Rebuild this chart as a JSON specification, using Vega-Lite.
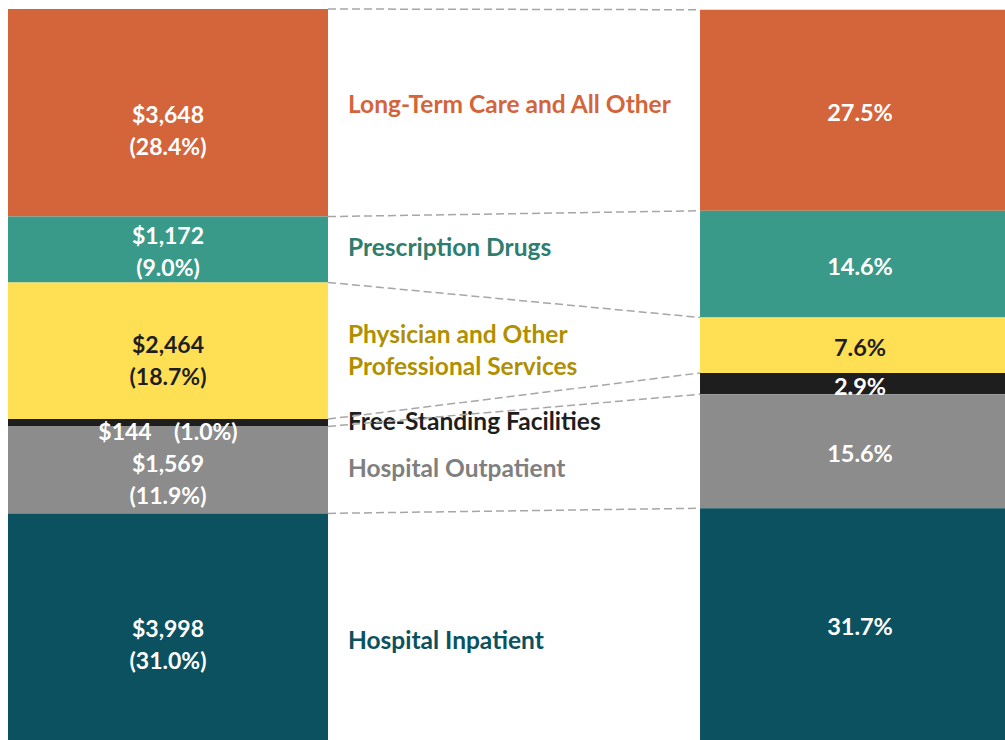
{
  "$schema": "https://vega.github.io/schema/vega-lite/v6.json",
  "width": 1005,
  "height": 731,
  "autosize": {"type": "none"},
  "padding": {"left": 0, "top": 9, "right": 0, "bottom": 0},
  "background": "white",
  "config": {"view": {"stroke": null}},
  "data": {
    "values": [
      {"side": "left", "rank": 6, "cat": "Long-Term Care and All Other", "value": 28.4, "lbl": "$3,648\n(28.4%)"},
      {"side": "left", "rank": 5, "cat": "Prescription Drugs", "value": 9.0, "lbl": "$1,172\n(9.0%)"},
      {"side": "left", "rank": 4, "cat": "Physician and Other\nProfessional Services", "value": 18.7, "lbl": "$2,464\n(18.7%)"},
      {"side": "left", "rank": 3, "cat": "Free-Standing Facilities", "value": 1.0, "lbl": "$144\u00a0\u00a0\u00a0\u00a0(1.0%)"},
      {"side": "left", "rank": 2, "cat": "Hospital Outpatient", "value": 11.9, "lbl": "$1,569\n(11.9%)"},
      {"side": "left", "rank": 1, "cat": "Hospital Inpatient", "value": 31.0, "lbl": "$3,998\n(31.0%)"},
      {"side": "right", "rank": 6, "cat": "Long-Term Care and All Other", "value": 27.5, "lbl": "27.5%"},
      {"side": "right", "rank": 5, "cat": "Prescription Drugs", "value": 14.6, "lbl": "14.6%"},
      {"side": "right", "rank": 4, "cat": "Physician and Other\nProfessional Services", "value": 7.6, "lbl": "7.6%"},
      {"side": "right", "rank": 3, "cat": "Free-Standing Facilities", "value": 2.9, "lbl": "2.9%"},
      {"side": "right", "rank": 2, "cat": "Hospital Outpatient", "value": 15.6, "lbl": "15.6%"},
      {"side": "right", "rank": 1, "cat": "Hospital Inpatient", "value": 31.7, "lbl": "31.7%"}
    ]
  },
  "transform": [
    {"stack": "value", "groupby": ["side"], "sort": [{"field": "rank", "order": "ascending"}], "as": ["y0", "y1"]},
    {"fold": ["y0", "y1"], "as": ["edge", "edgeValue"]},
    {"joinaggregate": [{"op": "mean", "field": "edgeValue", "as": "ymid"}], "groupby": ["side", "cat"]},
    {"filter": "datum.edge === 'y1'"}
  ],
  "layer": [
    {
      "encoding": {
        "x": {"field": "side", "type": "nominal", "axis": null,
              "scale": {"type": "band", "domain": ["left", "right"], "range": [8, 1020], "paddingInner": 0.5376, "paddingOuter": 0}}
      },
      "layer": [
        {
          "mark": {"type": "bar"},
          "encoding": {
            "y": {"field": "y0", "type": "quantitative", "axis": null, "scale": {"domain": [0, 100], "nice": false, "zero": true}},
            "y2": {"field": "y1"},
            "color": {"field": "rank", "type": "nominal", "legend": null,
                      "scale": {"domain": [6, 5, 4, 3, 2, 1], "range": ["#D4653B", "#3A9A8A", "#FFE055", "#1E1E1E", "#8C8C8C", "#0B5160"]}}
          }
        },
        {
          "transform": [{"filter": "datum.side === 'left' && (datum.rank === 6 || datum.rank === 1)"}],
          "mark": {"type": "text", "font": "Lato", "fontWeight": "bold", "fontSize": 23, "lineBreak": "\n", "lineHeight": 32, "dy": 3, "align": "center", "baseline": "middle"},
          "encoding": {
            "y": {"field": "ymid", "type": "quantitative", "axis": null, "scale": {"domain": [0, 100], "nice": false, "zero": true}},
            "text": {"field": "lbl"},
            "color": {"value": "white"}
          }
        },
        {
          "transform": [{"filter": "datum.side === 'left' && (datum.rank === 4 || datum.rank === 2)"}],
          "mark": {"type": "text", "font": "Lato", "fontWeight": "bold", "fontSize": 23, "lineBreak": "\n", "lineHeight": 32, "dy": -5, "align": "center", "baseline": "middle"},
          "encoding": {
            "y": {"field": "ymid", "type": "quantitative", "axis": null, "scale": {"domain": [0, 100], "nice": false, "zero": true}},
            "text": {"field": "lbl"},
            "color": {"condition": {"test": "datum.rank === 4", "value": "#1E1E1E"}, "value": "white"}
          }
        },
        {
          "transform": [{"filter": "datum.side === 'left' && datum.rank === 3"}],
          "mark": {"type": "text", "font": "Lato", "fontWeight": "bold", "fontSize": 23, "dy": 10, "align": "center", "baseline": "middle"},
          "encoding": {
            "y": {"field": "ymid", "type": "quantitative", "axis": null, "scale": {"domain": [0, 100], "nice": false, "zero": true}},
            "text": {"field": "lbl"},
            "color": {"value": "white"}
          }
        },
        {
          "transform": [{"filter": "datum.side === 'left' && datum.rank === 5"}],
          "mark": {"type": "text", "font": "Lato", "fontWeight": "bold", "fontSize": 23, "lineBreak": "\n", "lineHeight": 32, "dy": -12, "align": "center", "baseline": "middle"},
          "encoding": {
            "y": {"field": "ymid", "type": "quantitative", "axis": null, "scale": {"domain": [0, 100], "nice": false, "zero": true}},
            "text": {"field": "lbl"},
            "color": {"value": "white"}
          }
        },
        {
          "transform": [{"filter": "datum.side === 'right'"}],
          "mark": {"type": "text", "font": "Lato", "fontWeight": "bold", "fontSize": 23.5, "dy": 4, "align": "center", "baseline": "middle"},
          "encoding": {
            "y": {"field": "ymid", "type": "quantitative", "axis": null, "scale": {"domain": [0, 100], "nice": false, "zero": true}},
            "text": {"field": "lbl"},
            "color": {"condition": {"test": "datum.rank === 4", "value": "#1E1E1E"}, "value": "white"}
          }
        },
        {
          "transform": [{"filter": "datum.side === 'left' && datum.rank === 6"}],
          "mark": {"type": "text", "font": "Lato", "fontWeight": "bold", "fontSize": 24.5, "dx": 20, "dy": -7, "align": "left", "baseline": "middle"},
          "encoding": {
            "x": {"field": "side", "type": "nominal", "bandPosition": 1},
            "y": {"field": "ymid", "type": "quantitative", "axis": null, "scale": {"domain": [0, 100], "nice": false, "zero": true}},
            "text": {"field": "cat"},
            "color": {"value": "#D4653B"}
          }
        },
        {
          "transform": [{"filter": "datum.side === 'left' && datum.rank === 4"}],
          "mark": {"type": "text", "font": "Lato", "fontWeight": "bold", "fontSize": 24.5, "lineBreak": "\n", "lineHeight": 32, "dx": 20, "dy": -15, "align": "left", "baseline": "middle"},
          "encoding": {
            "x": {"field": "side", "type": "nominal", "bandPosition": 1},
            "y": {"field": "ymid", "type": "quantitative", "axis": null, "scale": {"domain": [0, 100], "nice": false, "zero": true}},
            "text": {"field": "cat"},
            "color": {"value": "#B08F00"}
          }
        },
        {
          "transform": [{"filter": "datum.side === 'left' && (datum.rank === 5 || datum.rank === 3 || datum.rank === 2)"}],
          "mark": {"type": "text", "font": "Lato", "fontWeight": "bold", "fontSize": 24.5, "dx": 20, "dy": 0, "align": "left", "baseline": "middle"},
          "encoding": {
            "x": {"field": "side", "type": "nominal", "bandPosition": 1},
            "y": {"field": "ymid", "type": "quantitative", "axis": null, "scale": {"domain": [0, 100], "nice": false, "zero": true}},
            "text": {"field": "cat"},
            "color": {
              "condition": [
                {"test": "datum.rank === 5", "value": "#2E7D6E"},
                {"test": "datum.rank === 3", "value": "#1E1E1E"}
              ],
              "value": "#7F7F7F"
            }
          }
        },
        {
          "transform": [{"filter": "datum.side === 'left' && datum.rank === 1"}],
          "mark": {"type": "text", "font": "Lato", "fontWeight": "bold", "fontSize": 24.5, "dx": 20, "dy": 15, "align": "left", "baseline": "middle"},
          "encoding": {
            "x": {"field": "side", "type": "nominal", "bandPosition": 1},
            "y": {"field": "ymid", "type": "quantitative", "axis": null, "scale": {"domain": [0, 100], "nice": false, "zero": true}},
            "text": {"field": "cat"},
            "color": {"value": "#0B5160"}
          }
        }
      ]
    },
    {
      "mark": {"type": "line", "stroke": "#A6A6A6", "strokeWidth": 1.5, "strokeDash": [8, 4]},
      "encoding": {
        "x": {"field": "side", "type": "nominal", "axis": null,
              "scale": {"type": "point", "domain": ["left", "right"], "range": [328, 700], "padding": 0}},
        "y": {"field": "y1", "type": "quantitative", "axis": null, "scale": {"domain": [0, 100], "nice": false, "zero": true}},
        "detail": {"field": "rank", "type": "nominal"}
      }
    }
  ],
  "resolve": {"scale": {"x": "independent"}}
}
